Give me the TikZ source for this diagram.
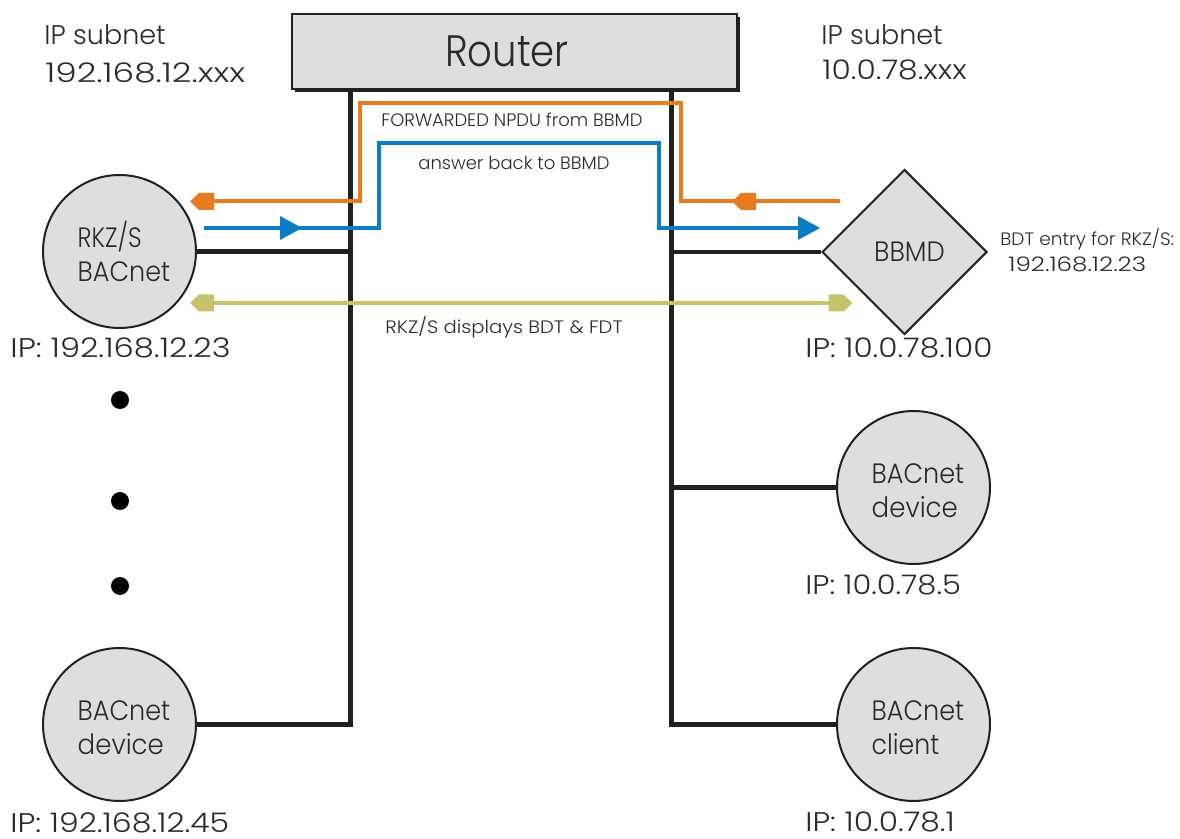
\documentclass[tikz,border=0pt]{standalone}
\usepackage{graphicx}
\usepackage{fontspec}
\setmainfont{Poppins}[UprightFont=* Light]
\usetikzlibrary{shapes.geometric}
\definecolor{boxgray}{HTML}{DEDEDE}
\definecolor{inkblack}{HTML}{231F20}
\definecolor{msgorange}{HTML}{E87B1E}
\definecolor{msgblue}{HTML}{0A7DC6}
\definecolor{msgolive}{HTML}{C7C26C}
\definecolor{txt}{HTML}{2A2A2A}
\newcommand{\wx}[2]{\scalebox{#1}[1]{#2}}
\newcommand{\twolines}[4]{\hspace*{4.5pt}\rule{0pt}{13pt}\wx{#1}{#2}\\\hspace*{4.5pt}\wx{#3}{#4}}
\tikzset{
 x=0.5pt,y=-0.5pt,
 bus/.style={draw=inkblack,line width=2.2pt},
 msg/.style={line width=2pt,line join=miter},
 circ/.style={circle,draw=inkblack,fill=boxgray,line width=1pt,minimum size=76.5pt,inner sep=0pt,align=left,font=\fontsize{14}{17}\selectfont,text=txt},
 diam/.style={diamond,draw=inkblack,fill=boxgray,line width=1pt,minimum width=82.5pt,minimum height=82.5pt,inner sep=0pt,font=\fontsize{14}{17}\selectfont,text=txt},
 rbox/.style={rectangle,draw=inkblack,fill=boxgray,line width=1pt,minimum width=222.5pt,minimum height=37.5pt,inner sep=0pt,text=txt,font=\fontsize{22}{26}\selectfont},
 lab/.style={anchor=base west,inner sep=0pt,text=txt,font=\fontsize{13.5}{16}\selectfont},
 small/.style={anchor=base west,inner sep=0pt,text=txt,font=\fontsize{9}{11}\selectfont},
 dotn/.style={circle,fill=black,minimum size=9pt,inner sep=0pt},
 pics/penta/.style={code={\fill[#1] (0,0)--(9,-8.5)--(24,-8.5)--(24,8.5)--(9,8.5)--cycle;}},
 pics/tri/.style={code={\fill[#1] (0,0)--(-22,-12)--(-22,12)--cycle;}},
}
\begin{document}
\begin{tikzpicture}
\useasboundingbox (0,0) rectangle (1180,839);
% router with shadow
\fill[inkblack] (295,17) rectangle (740,92);
\node[rbox] (router) at (514.5,51.5) {\wx{0.877}{Router}\hspace*{7.5pt}};
% devices
\node[circ] (rkz) at (119.5,251.5) {\twolines{0.85}{RKZ/S}{0.91}{BACnet}};
\node[circ] (devl) at (119.5,724.5) {\twolines{0.91}{BACnet}{0.93}{device}};
\node[diam] (bbmd) at (904.5,252) {\hspace*{5pt}\wx{0.92}{BBMD}};
\node[circ] (devr) at (913.5,487.5) {\twolines{0.91}{BACnet}{0.93}{device}};
\node[circ] (client) at (913.5,724.5) {\twolines{0.91}{BACnet}{0.9}{client}};
% bus
\coordinate (busLtop) at (350.5,89);
\coordinate (busRtop) at (671.5,89);
\coordinate (busLbot) at (350.5,724.5);
\coordinate (busRbot) at (671.5,724.5);
\draw[bus,line join=miter] (busLtop)--(busLbot)--(devl.east);
\draw[bus,line join=miter] (busRtop)--(busRbot)--(client.west);
\draw[bus] (rkz.east)--(busLtop |- rkz.east);
\draw[bus] (bbmd.west)--(busRtop |- bbmd.west);
\draw[bus] (devr.west)--(busRtop |- devr.west);
% orange
\coordinate (oS) at (840,201.5);
\coordinate (oE) at (208,201.5);
\draw[msg,msgorange] (oS)--(681,201.5)--(681,103)--(360,103)--(360,201.5)--(oE);
\path (190,201.5) pic {penta=msgorange};
\path (732,201.5) pic {penta=msgorange};
% blue
\coordinate (bS) at (204,228);
\coordinate (bE) at (805,228);
\draw[msg,msgblue] (bS)--(378.5,228)--(378.5,143)--(659,143)--(659,228)--(bE);
\path (302,228) pic {tri=msgblue};
\path (820,228) pic {tri=msgblue};
% olive
\coordinate (gL) at (205,303);
\coordinate (gR) at (838,303);
\draw[msg,msgolive] (gL)--(gR);
\path (190,303) pic {penta=msgolive};
\path (852.5,303) pic[xscale=-1] {penta=msgolive};
% dots
\node[dotn] (d1) at (120,400) {};
\node[dotn] (d2) at (120,501) {};
\node[dotn] (d3) at (120,586) {};
% labels
\node[lab] (t1) at (44,45) {IP subnet};
\node[lab] (t2) at (45,83) {\wx{1.27}{192.168.12.xxx}};
\node[lab] (t3) at (821,45) {IP subnet};
\node[lab] (t4) at (822,80) {\wx{1.16}{10.0.78.xxx}};
\node[lab] (t5) at (10,358) {\wx{1.19}{IP: 192.168.12.23}};
\node[lab] (t6) at (805,358) {\wx{1.154}{IP: 10.0.78.100}};
\node[lab] (t7) at (805,595) {\wx{1.13}{IP: 10.0.78.5}};
\node[lab] (t8) at (10,833) {\wx{1.17}{IP: 192.168.12.45}};
\node[lab] (t9) at (805,832) {\wx{1.16}{IP: 10.0.78.1}};
\node[small] (s1) at (381,127) {FORWARDED NPDU from BBMD};
\node[small] (s2) at (418,170) {answer back to BBMD};
\node[small] (s3) at (385,334) {\wx{1.09}{RKZ/S displays BDT \& FDT}};
\node[small] (s4) at (1000,246) {\wx{1.03}{BDT entry for RKZ/S:}};
\node[small,font=\fontsize{10}{12}\selectfont] (s5) at (1008,272) {\wx{1.23}{192.168.12.23}};
\end{tikzpicture}
\end{document}
